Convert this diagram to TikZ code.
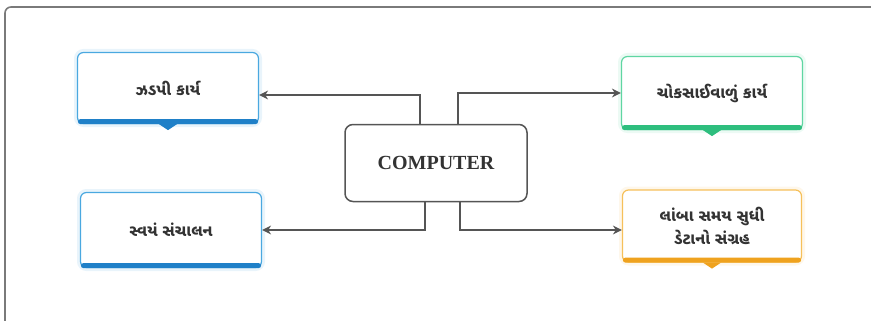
\documentclass[tikz,border=0pt]{standalone}
\usepackage{fontspec}
\newfontfamily\gujfont[Script=Gujarati]{Noto Sans Gujarati UI}
\newfontfamily\compfont{Liberation Serif}
\usetikzlibrary{
	arrows.meta,
	positioning,
	calc
}

\definecolor{framegray}{HTML}{7A7A7A}
\definecolor{linkgray}{HTML}{555555}
\definecolor{textgray}{HTML}{333333}
\definecolor{blueline}{HTML}{4AA8E0}
\definecolor{bluebar}{HTML}{1F80C8}
\definecolor{greenline}{HTML}{5FD6A2}
\definecolor{greenbar}{HTML}{2EBE7E}
\definecolor{orangeline}{HTML}{F6C05A}
\definecolor{orangebar}{HTML}{EFA21E}

\begin{document}
\begin{tikzpicture}[
		x=1pt, y=-1pt,
		task/.style={draw=#1, line width=1.2pt, fill=white, rounded corners=6pt, align=center,
			minimum width=181pt, minimum height=71pt, text=textgray,
			font=\gujfont\bfseries\fontsize{16}{23}\selectfont,
			preaction={draw=#1!40, line width=7pt, opacity=0.3}},
		core/.style={draw=linkgray, line width=1.5pt, fill=white, rounded corners=8pt,
			minimum width=182pt, minimum height=77pt, text=textgray,
			font=\compfont\bfseries\fontsize{20}{24}\selectfont},
		frame/.style={draw=framegray, line width=1.6pt, rounded corners=6pt},
		link/.style={-{Stealth[length=9pt,width=9pt]}, draw=linkgray, line width=1.7pt}
		]
		\useasboundingbox (0,0) rectangle (871,321);
		
		% Outer frame
		\draw[frame] (5,7) rectangle (890,340);
		
		% Boxes
		\node[core] (comp) at (436,163) {COMPUTER};
		\node[task=blueline] (fast) at (168,88) {ઝડપી કાર્ય};
		\node[task=greenline, minimum height=73pt] (exact) at (712,93) {ચોકસાઈવાળું કાર્ય};
		\node[task=blueline, minimum height=75pt] (auto) at (171,230) {સ્વયં સંચાલન};
		\node[task=orangeline, minimum width=179pt, minimum height=72pt] (store) at (712,226) {લાંબા સમય સુધી\\ ડેટાનો સંગ્રહ};
		
		% Bottom bars
		\foreach \n/\c in {fast/bluebar, auto/bluebar, exact/greenbar, store/orangebar} {
			\fill[\c, rounded corners=2.5pt] ([xshift=1pt,yshift=5pt]\n.south west) rectangle ([xshift=-1pt]\n.south east);
		}
		\foreach \n/\c in {fast/bluebar, exact/greenbar, store/orangebar} {
			\fill[\c] ([xshift=-9pt]\n.south) -- ([xshift=9pt]\n.south) -- ([yshift=-6pt]\n.south) -- cycle;
		}
		
		% Arrows
		\draw[link] ([xshift=-16pt]comp.north) |- ([yshift=-7pt]fast.east);
		\draw[link] ([xshift=22pt]comp.north) |- (exact.west);
		\draw[link] ([xshift=-11pt]comp.south) |- (auto.east);
		\draw[link] ([xshift=24pt]comp.south) |- ([yshift=-4pt]store.west);
		
	\end{tikzpicture}
\end{document}
